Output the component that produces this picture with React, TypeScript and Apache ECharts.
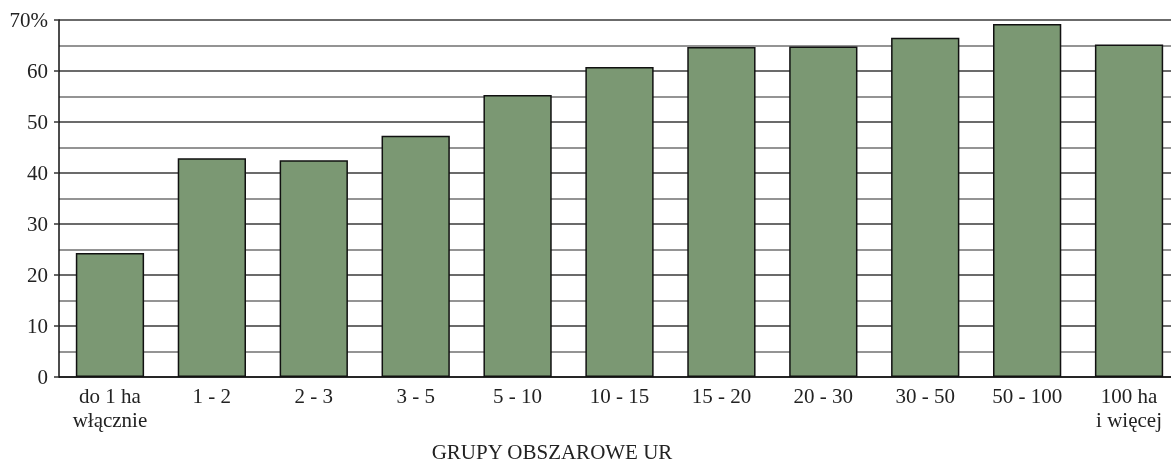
import React, { useEffect, useRef } from "react";
import * as echarts from "echarts";

const categories = [
  "do 1 ha\nwłącznie",
  "1 - 2",
  "2 - 3",
  "3 - 5",
  "5 - 10",
  "10 - 15",
  "15 - 20",
  "20 - 30",
  "30 - 50",
  "50 - 100",
  "100 ha\ni więcej",
];
const values = [24.3, 42.9, 42.5, 47.3, 55.3, 60.8, 64.7, 64.8, 66.5, 69.2, 65.2];
const axisTitle = "GRUPY OBSZAROWE UR";

export default function App() {
  const ref = useRef<HTMLDivElement>(null);
  useEffect(() => {
    if (!ref.current) return;
    const chart = echarts.init(ref.current, null, { renderer: "svg" });
    const font = "'Liberation Serif', 'Times New Roman', serif";
    chart.setOption({
      animation: false,
      grid: {
        left: 59,
        top: 20,
        width: 1121,
        height: 357,
        containLabel: false,
        outerBoundsMode: "none",
      },
      xAxis: {
        type: "category",
        data: categories,
        axisLine: { show: true, lineStyle: { color: "#111", width: 1.5 } },
        axisTick: { show: false },
        axisLabel: {
          color: "#222",
          fontFamily: font,
          fontSize: 21,
          lineHeight: 24,
          margin: 7,
          interval: 0,
        },
      },
      yAxis: {
        type: "value",
        min: 0,
        max: 70,
        interval: 10,
        axisLine: { show: true, lineStyle: { color: "#111", width: 1.5 } },
        axisTick: { show: true, length: 5, lineStyle: { color: "#333", width: 1.5 } },
        axisLabel: {
          color: "#222",
          fontFamily: font,
          fontSize: 21,
          margin: 11,
          formatter: (v: number) => (v === 70 ? "70%" : String(v)),
        },
        splitLine: { show: true, lineStyle: { color: "#3a3a3a", width: 1.5 } },
        minorTick: { show: false, splitNumber: 2 },
        minorSplitLine: { show: true, lineStyle: { color: "#707070", width: 1.5 } },
      },
      series: [
        {
          type: "bar",
          data: values,
          barWidth: "67%",
          itemStyle: { color: "#7b9873", borderColor: "#111", borderWidth: 1.5 },
        },
      ],
      graphic: [
        {
          type: "text",
          x: 552,
          y: 452,
          style: {
            text: axisTitle,
            fill: "#222",
            font: `21px ${font}`,
            textAlign: "center",
            textVerticalAlign: "middle",
          },
        },
      ],
    });
    return () => chart.dispose();
  }, []);
  return (
    <div
      ref={ref}
      style={{ position: "fixed", left: 0, top: 0, width: 1171, height: 463 }}
    />
  );
}
